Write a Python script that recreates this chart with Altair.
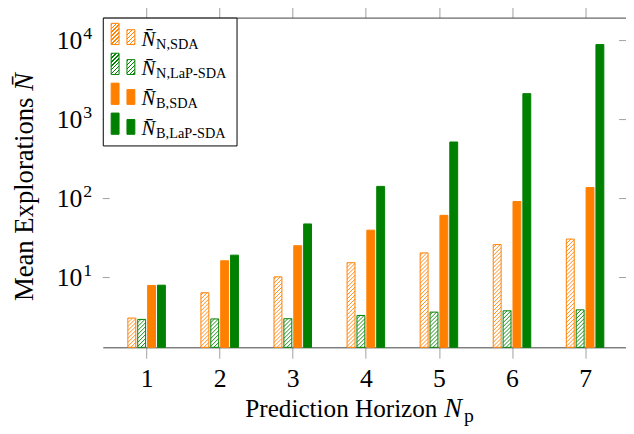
import altair as alt
import pandas as pd
import numpy as np

# ---------------- data ----------------
horizons = [1, 2, 3, 4, 5, 6, 7]
series_keys = ["N_SDA", "N_LaP", "B_SDA", "B_LaP"]
legend_subs = ["N,SDA", "N,LaP-SDA", "B,SDA", "B,LaP-SDA"]
n_sda = [3.07, 6.42, 10.2, 15.4, 20.5, 26.1, 30.7]
n_lap = [2.95, 2.99, 3.01, 3.31, 3.65, 3.79, 3.90]
b_sda = [7.94, 16.3, 25.3, 39.8, 61.3, 91.7, 138.0]
b_lap = [8.0, 19.2, 47.7, 142.5, 520.0, 2130.0, 8910.0]
y_tick_values = [10, 100, 1000, 10000]
y_tick_exps = ["1", "2", "3", "4"]
x_title = "Prediction Horizon"
y_title = "Mean Explorations"

# ---------------- styling / layout ----------------
ORANGE = "#ff8000"
GREEN = "#008000"
colors = [ORANGE, GREEN, ORANGE, GREEN]
FONT = "'Liberation Serif', 'Times New Roman', Times, serif"
AXIS_C = "#404040"
TICK_C = "#a0a0a0"

W, H = 530, 334
YMIN, YMAX = 1.307, 19540.0
XMIN, XMAX = 0.4, 7.56
px_per_unit = W / (XMAX - XMIN)
px_per_decade = H / (np.log10(YMAX) - np.log10(YMIN))
BAR_W = 8
shifts_px = [-15, -5, 5, 15]
half = BAR_W / 2 / px_per_unit
HATCH_P = 4.0

all_vals = [n_sda, n_lap, b_sda, b_lap]
rows = []
hatch_rows = []
for s_i, vals in enumerate(all_vals):
    for n, v in zip(horizons, vals):
        c = n + shifts_px[s_i] / px_per_unit
        rows.append({"series": series_keys[s_i], "s": s_i, "N": n, "value": v,
                     "base": YMIN, "x0": c - half, "x1": c + half})
        if s_i < 2:
            # diagonal hatch lines inside this bar (north-east lines)
            hpx = (np.log10(v) - np.log10(YMIN)) * px_per_decade
            for k in np.arange(-BAR_W + 1.0, hpx, HATCH_P):
                X0 = max(0.0, -k)
                X1 = min(float(BAR_W), hpx - k)
                if X1 - X0 < 0.4:
                    continue
                hatch_rows.append({
                    "s": s_i, "series": series_keys[s_i],
                    "hx0": c - half + X0 / px_per_unit,
                    "hx1": c - half + X1 / px_per_unit,
                    "hy0": YMIN * 10 ** ((X0 + k) / px_per_decade),
                    "hy1": YMIN * 10 ** ((X1 + k) / px_per_decade),
                })
df = pd.DataFrame(rows)
hdf = pd.DataFrame(hatch_rows)

xscale = alt.Scale(domain=[XMIN, XMAX], nice=False, zero=False)
yscale = alt.Scale(type="log", domain=[YMIN, YMAX], nice=False)


def hatch(color, w, h, period=4.0, lw=1.2):
    L = w + h
    a = L / (w * w + h * h)
    stops = [(0.0, "white")]
    start = 0.6
    while start < L:
        o0 = start / L
        o1 = min((start + lw) / L, 1.0)
        stops += [(o0, "white"), (o0, color), (o1, color), (o1, "white")]
        start += period
    stops.append((1.0, "white"))
    return alt.LinearGradient(
        gradient="linear",
        stops=[alt.GradientStop(offset=float(o), color=c) for o, c in stops],
        x1=0, y1=0, x2=float(a * w), y2=float(a * h),
    )


stroke_scale = alt.Scale(domain=series_keys, range=colors)
fill_scale = alt.Scale(domain=series_keys, range=["white", "white", ORANGE, GREEN])
layers = []

# all bars: hatched ones white-filled, solid ones filled
bars = alt.Chart(df).mark_rect(strokeWidth=1).encode(
    x=alt.X("x0:Q", scale=xscale,
            axis=alt.Axis(orient="bottom", values=horizons, format="d", title=None,
                          grid=False, domainColor=AXIS_C, domainWidth=1,
                          tickColor=TICK_C, tickSize=11, tickWidth=1,
                          labelFont=FONT, labelFontSize=26, labelColor="black",
                          labelPadding=7.5, labelFlush=False)),
    x2="x1:Q",
    y=alt.Y("value:Q", scale=yscale,
            axis=alt.Axis(orient="left", title=None, grid=False, labels=False,
                          ticks=False, tickSize=0, domainColor=AXIS_C, domainWidth=1)),
    y2="base:Q",
    fill=alt.Fill("series:N", scale=fill_scale, legend=None),
    stroke=alt.Stroke("series:N", scale=stroke_scale, legend=None),
)
layers.append(bars)

# hatch lines
hatch_layer = alt.Chart(hdf).mark_rule(strokeWidth=0.9).encode(
    x=alt.X("hx0:Q", scale=xscale, axis=None), x2="hx1:Q",
    y=alt.Y("hy0:Q", scale=yscale, axis=None), y2="hy1:Q",
    stroke=alt.Stroke("series:N", scale=stroke_scale, legend=None),
)
layers.append(hatch_layer)

# top axis (border + outward ticks)
ticks_df = pd.DataFrame({"N": horizons})
top_axis = alt.Chart(ticks_df).mark_point(opacity=0).encode(
    x=alt.X("N:Q", scale=xscale,
            axis=alt.Axis(orient="top", values=horizons, labels=False, title=None,
                          grid=False, domainColor=AXIS_C, domainWidth=1,
                          tickColor=TICK_C, tickSize=11, tickWidth=1)),
)
layers.append(top_axis)

# inward y ticks on left and right
ytick_df = pd.DataFrame({"t": y_tick_values, "e": y_tick_exps})
for xa, xb in [(0, 7), (W - 7, W)]:
    layers.append(
        alt.Chart(ytick_df).mark_rule(color=TICK_C, strokeWidth=1).encode(
            y=alt.Y("t:Q", scale=yscale, axis=None),
            x=alt.value(xa), x2=alt.value(xb),
        )
    )

# y tick labels 10^k
layers.append(
    alt.Chart(ytick_df).mark_text(align="right", baseline="alphabetic", dy=8.4,
                                  font=FONT, fontSize=26, color="black").encode(
        y=alt.Y("t:Q", scale=yscale, axis=None), x=alt.value(-20.7), text=alt.value("10"))
)
layers.append(
    alt.Chart(ytick_df).mark_text(align="left", baseline="alphabetic", dy=-1.6,
                                  font=FONT, fontSize=18, color="black").encode(
        y=alt.Y("t:Q", scale=yscale, axis=None), x=alt.value(-19.7), text="e:N")
)

one = pd.DataFrame({"a": [0]})

# axis titles
layers.append(alt.Chart(one).mark_text(text=x_title, align="right", baseline="alphabetic",
                                       font=FONT, fontSize=25.5, color="black").encode(
    x=alt.value(339), y=alt.value(405)))
layers.append(alt.Chart(one).mark_text(text="N", align="left", baseline="alphabetic",
                                       font=FONT, fontSize=27, fontStyle="italic", color="black").encode(
    x=alt.value(346), y=alt.value(405)))
layers.append(alt.Chart(one).mark_text(text="p", align="left", baseline="alphabetic",
                                       font=FONT, fontSize=20, color="black").encode(
    x=alt.value(366), y=alt.value(410)))

layers.append(alt.Chart(one).mark_text(text=y_title, align="right", baseline="alphabetic", angle=270,
                                       font=FONT, fontSize=27, color="black").encode(
    x=alt.value(-71), y=alt.value(81)))
layers.append(alt.Chart(one).mark_text(text="N\u0304", align="left", baseline="alphabetic", angle=270,
                                       font=FONT, fontSize=27, fontStyle="italic", color="black").encode(
    x=alt.value(-71), y=alt.value(74)))

# legend
layers.append(alt.Chart(one).mark_rect(fill="white", stroke="black", strokeWidth=1).encode(
    x=alt.value(0.5), x2=alt.value(136), y=alt.value(0.5), y2=alt.value(130)))
for r in range(4):
    base = 27.3 + 30.3 * r
    for (bx, bh) in [(8.5, 21.5), (24.5, 15.0)]:
        if r < 2:
            mk = alt.Chart(one).mark_rect(fill=hatch(colors[r], 8, bh), stroke=colors[r], strokeWidth=1)
        else:
            mk = alt.Chart(one).mark_rect(fill=colors[r], stroke=colors[r], strokeWidth=1)
        layers.append(mk.encode(x=alt.value(bx), x2=alt.value(bx + 8),
                                y=alt.value(base - bh), y2=alt.value(base)))
    layers.append(alt.Chart(one).mark_text(text="N\u0304", align="left", baseline="alphabetic",
                                           font=FONT, fontSize=21, fontStyle="italic", color="black").encode(
        x=alt.value(39.3), y=alt.value(base + 1)))
    layers.append(alt.Chart(one).mark_text(text=legend_subs[r], align="left", baseline="alphabetic",
                                           font=FONT, fontSize=14.5, color="black").encode(
        x=alt.value(54), y=alt.value(base + 4)))

chart = alt.layer(*layers).properties(
    width=W, height=H,
    autosize=alt.AutoSizeParams(type="none"),
    padding={"left": 96, "top": 7, "right": 0, "bottom": 80},
).configure_view(stroke=None)

chart.save("out.html", embed_options={"renderer": "svg", "actions": False})
